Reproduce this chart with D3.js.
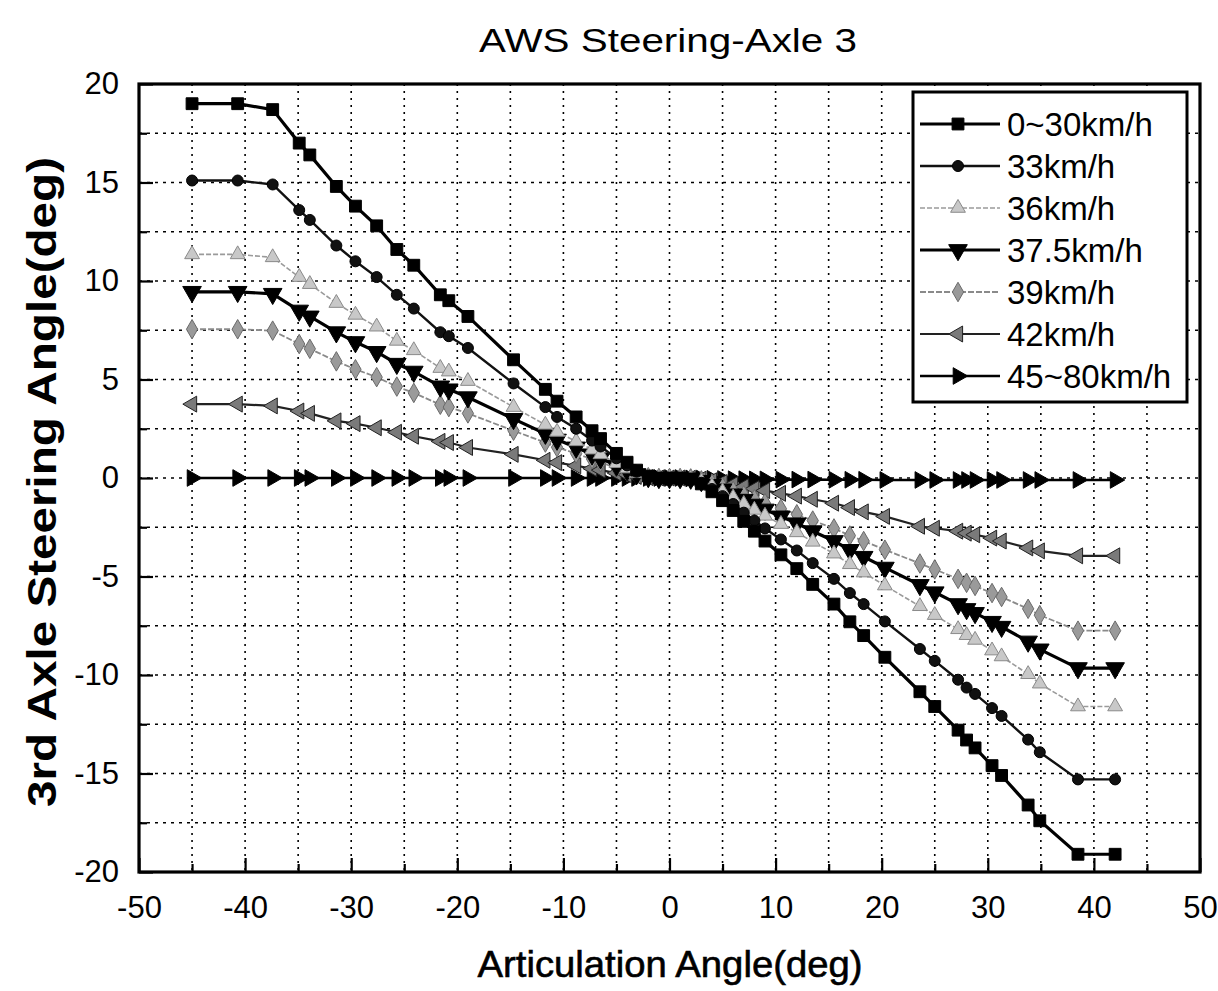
<!DOCTYPE html>
<html>
<head>
<meta charset="utf-8">
<script src="https://cdn.jsdelivr.net/npm/d3@7"></script>
<style>
  html, body { margin: 0; padding: 0; background: #fff; }
  svg { display: block; font-family: "Liberation Sans", Arial, sans-serif; }
</style>
</head>
<body>
<svg id="chart" width="1218" height="991"></svg>
<script>
// ---------- data ----------
const title = "AWS Steering-Axle 3";
const xLabel = "Articulation Angle(deg)";
const yLabel = "3rd Axle Steering Angle(deg)";
const xTicks = [-50, -40, -30, -20, -10, 0, 10, 20, 30, 40, 50];
const yTicks = [-20, -15, -10, -5, 0, 5, 10, 15, 20];
const seriesNames = ["0~30km/h", "33km/h", "36km/h", "37.5km/h", "39km/h", "42km/h", "45~80km/h"];

const articulation = [-45, -40.7, -37.4, -34.9, -33.9, -31.4, -29.6, -27.6, -25.7, -24.1,
  -21.6, -20.8, -19.0, -14.7, -11.7, -10.6, -8.8, -7.3, -6.5, -5.0,
  -4.0, -3.1, -2.0, -1.0, 0, 1.0, 2.0, 3.0, 4.0, 5.0,
  6.0, 7.0, 8.0, 9.0, 10.5, 12.0, 13.5, 15.5, 17.0, 18.3,
  20.3, 23.6, 25.0, 27.2, 28.0, 28.8, 30.4, 31.3, 33.8, 34.9,
  38.5, 42.0];

const s0_30 = [19.0, 19.0, 18.7, 17.0, 16.4, 14.8, 13.8, 12.8, 11.6, 10.8,
  9.3, 9.0, 8.2, 6.0, 4.5, 3.9, 3.1, 2.4, 2.0, 1.25,
  0.8, 0.4, 0.1, 0, 0, 0, -0.05, -0.3, -0.7, -1.15,
  -1.65, -2.2, -2.7, -3.2, -3.9, -4.6, -5.4, -6.4, -7.3, -8.0,
  -9.1, -10.85, -11.6, -12.8, -13.3, -13.7, -14.6, -15.1, -16.6, -17.4,
  -19.1, -19.1];
const s33 = [15.1, 15.1, 14.9, 13.6, 13.1, 11.8, 11.0, 10.2, 9.3, 8.6,
  7.4, 7.2, 6.6, 4.8, 3.6, 3.1, 2.5, 1.9, 1.6, 1.0,
  0.64, 0.32, 0.08, 0, 0, 0, -0.04, -0.24, -0.56, -0.92,
  -1.32, -1.76, -2.16, -2.56, -3.12, -3.68, -4.32, -5.12, -5.84, -6.4,
  -7.28, -8.68, -9.28, -10.24, -10.64, -10.96, -11.68, -12.08, -13.28, -13.92,
  -15.3, -15.3];
const s36 = [11.35, 11.35, 11.2, 10.2, 9.84, 8.88, 8.28, 7.68, 6.96, 6.48,
  5.58, 5.4, 4.92, 3.6, 2.7, 2.34, 1.86, 1.44, 1.2, 0.75,
  0.48, 0.24, 0.06, 0, 0, 0, -0.03, -0.18, -0.42, -0.69,
  -0.99, -1.32, -1.62, -1.92, -2.34, -2.76, -3.24, -3.84, -4.38, -4.8,
  -5.46, -6.51, -6.96, -7.68, -7.98, -8.22, -8.76, -9.06, -9.96, -10.44,
  -11.6, -11.6];
const s37_5 = [9.45, 9.45, 9.35, 8.5, 8.2, 7.4, 6.9, 6.4, 5.8, 5.4,
  4.65, 4.5, 4.1, 3.0, 2.25, 1.95, 1.55, 1.2, 1.0, 0.63,
  0.4, 0.2, 0.05, 0, 0, 0, -0.03, -0.15, -0.35, -0.58,
  -0.83, -1.1, -1.35, -1.6, -1.95, -2.3, -2.7, -3.2, -3.65, -4.0,
  -4.55, -5.43, -5.8, -6.4, -6.65, -6.85, -7.3, -7.55, -8.3, -8.7,
  -9.65, -9.65];
const s39 = [7.55, 7.55, 7.48, 6.8, 6.56, 5.92, 5.52, 5.12, 4.64, 4.32,
  3.72, 3.6, 3.28, 2.4, 1.8, 1.56, 1.24, 0.96, 0.8, 0.5,
  0.32, 0.16, 0.04, 0, 0, 0, -0.02, -0.12, -0.28, -0.46,
  -0.66, -0.88, -1.08, -1.28, -1.56, -1.84, -2.16, -2.56, -2.92, -3.2,
  -3.64, -4.34, -4.64, -5.12, -5.32, -5.48, -5.84, -6.04, -6.64, -6.96,
  -7.75, -7.75];
const s42 = [3.75, 3.75, 3.66, 3.4, 3.28, 2.9, 2.76, 2.55, 2.32, 2.12,
  1.86, 1.8, 1.55, 1.2, 0.9, 0.78, 0.62, 0.48, 0.4, 0.25,
  0.16, 0.08, 0.02, 0, 0, 0, -0.01, -0.06, -0.14, -0.23,
  -0.33, -0.44, -0.54, -0.64, -0.78, -0.92, -1.08, -1.28, -1.5, -1.72,
  -1.95, -2.45, -2.55, -2.7, -2.8, -2.88, -3.05, -3.2, -3.55, -3.7,
  -3.95, -3.95];
const s45_80 = [0, 0, 0, 0, 0, 0, 0, 0, 0, 0,
  0, 0, 0, 0, 0, 0, 0, 0, 0, 0,
  0, 0, 0, 0, 0, 0, -0.02, -0.03, -0.04, -0.05,
  -0.06, -0.06, -0.07, -0.07, -0.08, -0.08, -0.08, -0.09, -0.09, -0.09,
  -0.1, -0.1, -0.1, -0.1, -0.1, -0.1, -0.1, -0.1, -0.1, -0.1,
  -0.1, -0.1];

const seriesValues = [s0_30, s33, s36, s37_5, s39, s42, s45_80];

// ---------- styles ----------
const styles = [
  { line: "#000", lw: 3.2, sym: d3.symbolSquare, size: 140, rot: 0, fill: "#000", stroke: "#000", dash: null },
  { line: "#111", lw: 2.4, sym: d3.symbolCircle, size: 95, rot: 0, fill: "#111", stroke: "#000", dash: null },
  { line: "#9a9a9a", lw: 1.6, sym: d3.symbolTriangle, size: 95, rot: 0, fill: "#c8c8c8", stroke: "#8a8a8a", dash: "5,2" },
  { line: "#000", lw: 3.2, sym: d3.symbolTriangle, size: 150, rot: 180, fill: "#000", stroke: "#000", dash: null },
  { line: "#8a8a8a", lw: 1.8, sym: d3.symbolDiamond, size: 110, rot: 0, fill: "#9a9a9a", stroke: "#6a6a6a", dash: "6,2" },
  { line: "#222", lw: 2.2, sym: d3.symbolTriangle, size: 110, rot: -90, fill: "#7a7a7a", stroke: "#222", dash: null },
  { line: "#000", lw: 2.6, sym: d3.symbolTriangle, size: 120, rot: 90, fill: "#000", stroke: "#000", dash: null }
];

// ---------- layout ----------
const L = 139, R = 1200, T = 84, B = 872;
const svg = d3.select("#chart");
const x = d3.scaleLinear().domain([-50, 50]).range([L, R]);
const y = d3.scaleLinear().domain([-20, 20]).range([B, T]);
const plainFmt = d => String(d);

// grid
const gx = d3.range(-45, 50, 5);
const gy = d3.range(-17.5, 20, 2.5);
const grid = svg.append("g");
grid.selectAll("line.gx").data(gx).join("line")
  .attr("x1", d => x(d)).attr("x2", d => x(d)).attr("y1", T).attr("y2", B)
  .attr("stroke", "#000").attr("stroke-width", 1.6).attr("stroke-dasharray", "2,5");
grid.selectAll("line.gy").data(gy).join("line")
  .attr("y1", d => y(d)).attr("y2", d => y(d)).attr("x1", L).attr("x2", R)
  .attr("stroke", "#000").attr("stroke-width", 1.6).attr("stroke-dasharray", "3,5");

// axes ticks (inward)
const xAxisG = svg.append("g").attr("transform", `translate(0,${B})`)
  .call(d3.axisTop(x).tickValues(d3.range(-50, 51, 5)).tickSize(8).tickFormat(""));
xAxisG.selectAll(".tick line").attr("stroke-width", 2.2)
  .attr("y2", d => (d % 10 === 0 ? -14 : -8));
xAxisG.select(".domain").remove();
const xLab = svg.append("g").attr("transform", `translate(0,${B})`)
  .call(d3.axisBottom(x).tickValues(xTicks).tickSize(0).tickPadding(24).tickFormat(plainFmt));
xLab.select(".domain").remove();
xLab.selectAll("text").attr("font-size", 31).attr("fill", "#000")
  .attr("font-family", "'Liberation Sans', Arial, sans-serif");

const yAxisG = svg.append("g").attr("transform", `translate(${L},0)`)
  .call(d3.axisRight(y).tickValues(d3.range(-20, 20.1, 2.5)).tickSize(8).tickFormat(""));
yAxisG.selectAll(".tick line").attr("stroke-width", 2.2)
  .attr("x2", d => (d % 5 === 0 ? 14 : 8));
yAxisG.select(".domain").remove();
const yLab = svg.append("g").attr("transform", `translate(${L},0)`)
  .call(d3.axisLeft(y).tickValues(yTicks).tickSize(0).tickPadding(20).tickFormat(plainFmt));
yLab.select(".domain").remove();
yLab.selectAll("text").attr("font-size", 31).attr("fill", "#000")
  .attr("font-family", "'Liberation Sans', Arial, sans-serif");

// series
const lineGen = d3.line().x(d => x(d[0])).y(d => y(d[1]));
const order = [6, 5, 4, 3, 2, 1, 0];
order.forEach(i => {
  const st = styles[i];
  const pts = articulation.map((a, k) => [a, seriesValues[i][k]]);
  const g = svg.append("g");
  g.append("path").datum(pts).attr("d", lineGen)
    .attr("fill", "none").attr("stroke", st.line).attr("stroke-width", st.lw)
    .attr("stroke-dasharray", st.dash);
  g.selectAll("path.m").data(pts).join("path").attr("class", "m")
    .attr("d", d3.symbol().type(st.sym).size(st.size))
    .attr("transform", d => `translate(${x(d[0])},${y(d[1])}) rotate(${st.rot})`)
    .attr("fill", st.fill).attr("stroke", st.stroke).attr("stroke-width", 1);
});

// frame
svg.append("rect").attr("x", L).attr("y", T).attr("width", R - L).attr("height", B - T)
  .attr("fill", "none").attr("stroke", "#000").attr("stroke-width", 3.2);

// legend
const lg = svg.append("g");
const LX = 913, LY = 92, LW = 274, LH = 310;
lg.append("rect").attr("x", LX).attr("y", LY).attr("width", LW).attr("height", LH)
  .attr("fill", "#fff").attr("stroke", "#000").attr("stroke-width", 3);
seriesNames.forEach((name, i) => {
  const st = styles[i];
  const cy = 124 + i * 42;
  lg.append("line").attr("x1", 920).attr("x2", 1000).attr("y1", cy).attr("y2", cy)
    .attr("stroke", st.line).attr("stroke-width", st.lw).attr("stroke-dasharray", st.dash);
  lg.append("path").attr("d", d3.symbol().type(st.sym).size(st.size)())
    .attr("transform", `translate(958,${cy}) rotate(${st.rot})`)
    .attr("fill", st.fill).attr("stroke", st.stroke).attr("stroke-width", 1);
  lg.append("text").attr("x", 1007).attr("y", cy + 12).text(name)
    .attr("font-size", 33).attr("fill", "#000");
});

// titles
svg.append("text").attr("x", 668).attr("y", 52).attr("text-anchor", "middle")
  .attr("font-size", 34).attr("textLength", 378).attr("lengthAdjust", "spacingAndGlyphs")
  .text(title);
svg.append("text").attr("x", 670).attr("y", 977).attr("text-anchor", "middle")
  .attr("font-size", 37).attr("textLength", 385).attr("lengthAdjust", "spacingAndGlyphs")
  .attr("stroke", "#000").attr("stroke-width", 0.6)
  .text(xLabel);
svg.append("text").attr("transform", "translate(56,482) rotate(-90)").attr("text-anchor", "middle")
  .attr("font-size", 40).attr("font-weight", "bold").attr("textLength", 650).attr("lengthAdjust", "spacingAndGlyphs")
  .text(yLabel);
</script>
</body>
</html>
